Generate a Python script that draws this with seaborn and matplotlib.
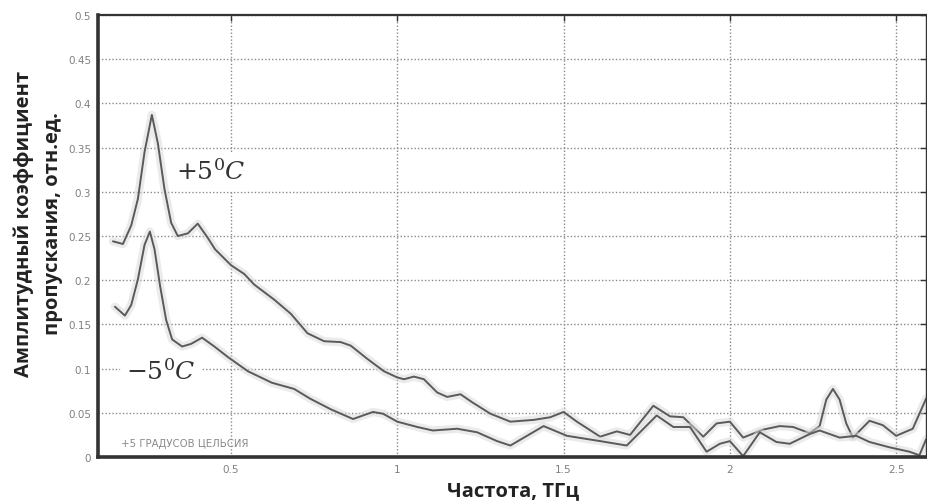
import matplotlib
matplotlib.use('Agg')
import matplotlib.pyplot as plt
import matplotlib.patheffects as pe
import seaborn as sns
import pandas as pd

# transmission curves (frequency in THz)
freq_plus = [0.145, 0.175, 0.20, 0.22, 0.24, 0.262, 0.28, 0.30, 0.32, 0.34, 0.37, 0.40,
             0.43, 0.452, 0.50, 0.54, 0.57, 0.63, 0.68, 0.73, 0.78, 0.83, 0.86, 0.91,
             0.96, 1.00, 1.02, 1.05, 1.08, 1.12, 1.15, 1.19, 1.225, 1.28, 1.34, 1.41,
             1.46, 1.50, 1.54, 1.61, 1.66, 1.70, 1.77, 1.82, 1.86, 1.92, 1.96, 2.00,
             2.04, 2.10, 2.15, 2.19, 2.24, 2.27, 2.29, 2.31, 2.33, 2.35, 2.37, 2.42,
             2.46, 2.50, 2.55, 2.59]
amp_plus = [0.244, 0.241, 0.262, 0.292, 0.345, 0.387, 0.355, 0.303, 0.265, 0.250, 0.253, 0.264,
            0.248, 0.235, 0.217, 0.207, 0.195, 0.178, 0.162, 0.140, 0.131, 0.130, 0.126, 0.111,
            0.097, 0.090, 0.088, 0.091, 0.088, 0.073, 0.068, 0.071, 0.062, 0.049, 0.040, 0.042,
            0.045, 0.051, 0.040, 0.023, 0.029, 0.025, 0.058, 0.046, 0.045, 0.023, 0.038, 0.040,
            0.022, 0.031, 0.035, 0.034, 0.027, 0.035, 0.065, 0.077, 0.065, 0.038, 0.022, 0.041,
            0.036, 0.024, 0.032, 0.066]

freq_minus = [0.151, 0.181, 0.20, 0.22, 0.24, 0.256, 0.27, 0.287, 0.305, 0.323, 0.353, 0.38,
              0.413, 0.45, 0.491, 0.551, 0.623, 0.69, 0.738, 0.80, 0.867, 0.927, 0.957, 1.00,
              1.06, 1.107, 1.18, 1.24, 1.30, 1.34, 1.39, 1.44, 1.51, 1.61, 1.69, 1.78,
              1.83, 1.88, 1.93, 1.97, 2.00, 2.04, 2.09, 2.14, 2.18, 2.24, 2.27, 2.33,
              2.38, 2.42, 2.48, 2.54, 2.57, 2.59]
amp_minus = [0.170, 0.160, 0.172, 0.201, 0.240, 0.255, 0.235, 0.193, 0.155, 0.133, 0.125, 0.128,
             0.135, 0.125, 0.113, 0.097, 0.084, 0.077, 0.066, 0.054, 0.043, 0.051, 0.049, 0.040,
             0.034, 0.030, 0.032, 0.028, 0.018, 0.013, 0.024, 0.035, 0.024, 0.018, 0.013, 0.047,
             0.034, 0.034, 0.006, 0.015, 0.018, 0.001, 0.028, 0.017, 0.015, 0.026, 0.030, 0.022,
             0.024, 0.017, 0.011, 0.006, 0.002, 0.020]

x_ticks = [0.5, 1, 1.5, 2, 2.5]
x_tick_labels = ['0.5', '1', '1.5', '2', '2.5']
y_ticks = [0, 0.05, 0.1, 0.15, 0.2, 0.25, 0.3, 0.35, 0.4, 0.45, 0.5]
y_tick_labels = ['0', '0.05', '0.1', '0.15', '0.2', '0.25', '0.3', '0.35', '0.4', '0.45', '0.5']

df_plus = pd.DataFrame({'f': freq_plus, 'a': amp_plus})
df_minus = pd.DataFrame({'f': freq_minus, 'a': amp_minus})

sns.set_style('white')
plt.rcParams['font.family'] = ['Open Sans', 'DejaVu Sans']

fig = plt.figure(figsize=(9.27, 5.02), dpi=100)
ax = fig.add_axes([0.1057, 0.0876, 0.8933, 0.8805])

halo = [pe.Stroke(linewidth=6, foreground='#d8d8d8', alpha=0.5), pe.Normal()]
for d in (df_plus, df_minus):
    sns.lineplot(data=d, x='f', y='a', ax=ax, color='#5a5a5a', linewidth=1.4,
                 sort=False, estimator=None)
for ln in ax.lines:
    ln.set_path_effects(halo)

ax.set_xlim(0.1, 2.59)
ax.set_ylim(0, 0.5)
ax.set_xticks(x_ticks)
ax.set_xticklabels(x_tick_labels)
ax.set_yticks(y_ticks)
ax.set_yticklabels(y_tick_labels)
ax.tick_params(direction='in', length=4, width=1, color='#333333', labelsize=7.5,
               labelcolor='#808080', top=True, right=True, pad=5)
for lab in ax.get_xticklabels() + ax.get_yticklabels():
    lab.set_family('DejaVu Sans')

ax.grid(True, linestyle=(0, (1, 1.5)), color='#8a8a8a', linewidth=1)
ax.set_axisbelow(True)

for side, w in (('left', 2.6), ('bottom', 2.6), ('top', 1.6), ('right', 1.0)):
    ax.spines[side].set_visible(True)
    ax.spines[side].set_linewidth(w)
    ax.spines[side].set_color('#333333')

ax.set_xlabel('Частота, ТГц', fontsize=14.5, fontweight='bold', color='#222222')
ax.xaxis.set_label_coords(0.501, -0.052)
ax.xaxis.label.set_va('top')
ax.set_ylabel('Амплитудный коэффициент\nпропускания, отн.ед.', fontsize=14.5,
              fontweight='bold', color='#222222', linespacing=1.6)
ax.yaxis.set_label_coords(-0.042, 0.53)

box = dict(boxstyle='round,pad=0.25', fc='white', ec='none')
ax.text(0.44, 0.322, r'$+5^0C$', fontsize=18, color='#333333', ha='center', va='center',
        math_fontfamily='dejavuserif', bbox=box)
ax.text(0.29, 0.096, r'$-5^0C$', fontsize=18, color='#333333', ha='center', va='center',
        math_fontfamily='dejavuserif', bbox=box)
ax.text(0.362, 0.016, '+5 ГРАДУСОВ ЦЕЛЬСИЯ', fontsize=7.3, color='#888888', ha='center',
        va='center', family='DejaVu Sans')

fig.savefig('out.png', dpi=100)
